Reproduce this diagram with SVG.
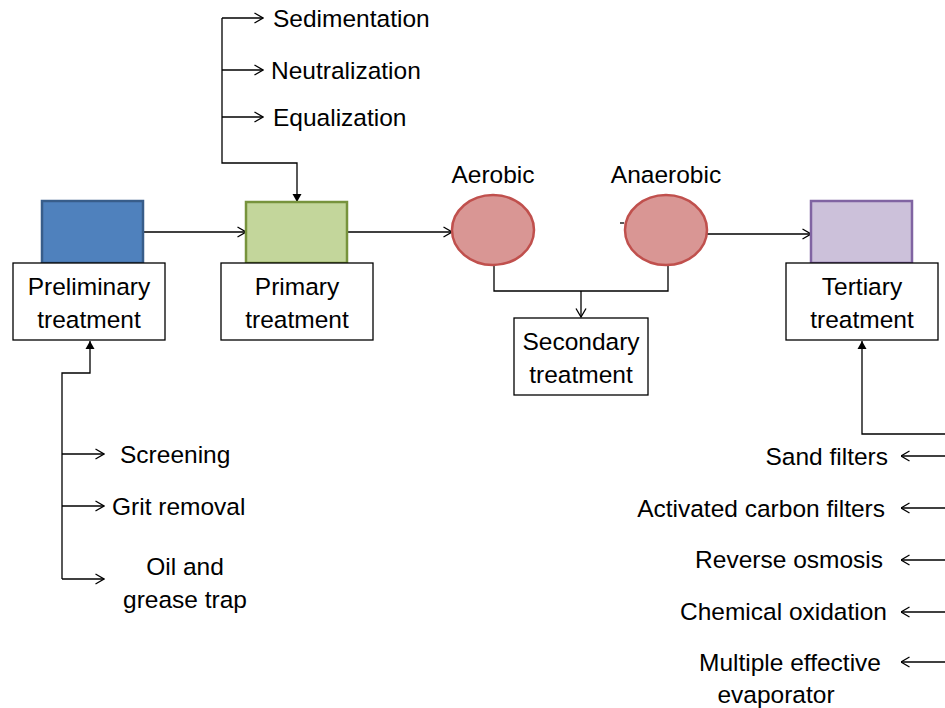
<svg xmlns="http://www.w3.org/2000/svg" width="945" height="708" viewBox="0 0 945 708">
<defs>
<style>
text{font-family:"Liberation Sans",Arial,sans-serif;font-size:24.5px;fill:#000}
.c{text-anchor:middle}
.r{text-anchor:end}
.lbl{fill:#fff;stroke:#000;stroke-width:1.3}
.ln{fill:none;stroke:#000;stroke-width:1.3}
.o{marker-end:url(#open)}
.f{marker-end:url(#fill)}
</style>
<marker id="open" viewBox="0 0 10 12" refX="9.5" refY="6" markerWidth="10" markerHeight="12" markerUnits="userSpaceOnUse" orient="auto">
<path d="M1,1 L9.5,6 L1,11" fill="none" stroke="#000" stroke-width="1.3"/>
</marker>
<marker id="fill" viewBox="0 0 8 10" refX="8" refY="5" markerWidth="8" markerHeight="10" markerUnits="userSpaceOnUse" orient="auto">
<path d="M0,0.5 L8,5 L0,9.5 Z" fill="#000"/>
</marker>
</defs>
<rect width="945" height="708" fill="#fff"/>

<g id="connectors">
<line class="ln o" x1="143" y1="232" x2="246" y2="232"/>
<line class="ln o" x1="347" y1="232" x2="452" y2="232"/>
<line class="ln o" x1="707" y1="234" x2="811" y2="234"/>
<line class="ln" x1="620" y1="223" x2="624" y2="223"/>
<polyline class="ln" points="494,265 494,291 668,291 668,265"/>
<line class="ln o" x1="581" y1="291" x2="581" y2="317"/>
<polyline class="ln f" points="222,18 222,163 297,163 297,202"/>
<line class="ln o" x1="222" y1="18" x2="263" y2="18"/>
<line class="ln o" x1="222" y1="70" x2="263" y2="70"/>
<line class="ln o" x1="222" y1="117" x2="263" y2="117"/>
<polyline class="ln f" points="62,579 62,373 90,373 90,341"/>
<line class="ln o" x1="62" y1="454" x2="104" y2="454"/>
<line class="ln o" x1="62" y1="506" x2="104" y2="506"/>
<line class="ln o" x1="62" y1="579" x2="104" y2="579"/>
<polyline class="ln f" points="945,434 862,434 862,341"/>
<line class="ln o" x1="945" y1="456" x2="901" y2="456"/>
<line class="ln o" x1="945" y1="508" x2="901" y2="508"/>
<line class="ln o" x1="945" y1="560" x2="901" y2="560"/>
<line class="ln o" x1="945" y1="612" x2="901" y2="612"/>
<line class="ln o" x1="945" y1="662" x2="901" y2="662"/>
</g>

<g id="preliminary">
<rect x="42" y="201" width="101" height="62" fill="#4F81BD" stroke="#385D8A" stroke-width="2.5"/>
<rect class="lbl" x="13" y="263" width="152" height="77"/>
<text class="c" x="89" y="295">Preliminary</text>
<text class="c" x="89" y="328">treatment</text>
</g>

<g id="primary">
<rect x="246" y="202" width="101" height="61" fill="#C3D69B" stroke="#77933C" stroke-width="2.5"/>
<rect class="lbl" x="221" y="263" width="152" height="77"/>
<text class="c" x="297" y="295">Primary</text>
<text class="c" x="297" y="328">treatment</text>
</g>

<g id="aerobic">
<ellipse cx="493" cy="230" rx="41" ry="35" fill="#D99694" stroke="#C0504D" stroke-width="2.5"/>
<text class="c" x="493" y="183">Aerobic</text>
</g>

<g id="anaerobic">
<ellipse cx="666" cy="230" rx="41" ry="35" fill="#D99694" stroke="#C0504D" stroke-width="2.5"/>
<text class="c" x="666" y="183">Anaerobic</text>
</g>

<g id="secondary">
<rect class="lbl" x="514" y="318" width="134" height="77"/>
<text class="c" x="581" y="350">Secondary</text>
<text class="c" x="581" y="383">treatment</text>
</g>

<g id="tertiary">
<rect x="811" y="201" width="101" height="62" fill="#CCC1DA" stroke="#8064A2" stroke-width="2.5"/>
<rect class="lbl" x="786" y="263" width="152" height="77"/>
<text class="c" x="862" y="295">Tertiary</text>
<text class="c" x="862" y="328">treatment</text>
</g>

<g id="primary-steps">
<text x="273" y="27">Sedimentation</text>
<text x="271" y="79">Neutralization</text>
<text x="273" y="126">Equalization</text>
</g>

<g id="preliminary-steps">
<text x="120" y="463">Screening</text>
<text x="112" y="515">Grit removal</text>
<text class="c" x="185" y="575">Oil and</text>
<text class="c" x="185" y="608">grease trap</text>
</g>

<g id="tertiary-steps">
<text class="r" x="888" y="465">Sand filters</text>
<text class="r" x="885" y="517">Activated carbon filters</text>
<text class="r" x="883" y="568">Reverse osmosis</text>
<text class="r" x="887" y="620">Chemical oxidation</text>
<text class="r" x="881" y="671">Multiple effective</text>
<text class="c" x="776" y="703">evaporator</text>
</g>
</svg>
